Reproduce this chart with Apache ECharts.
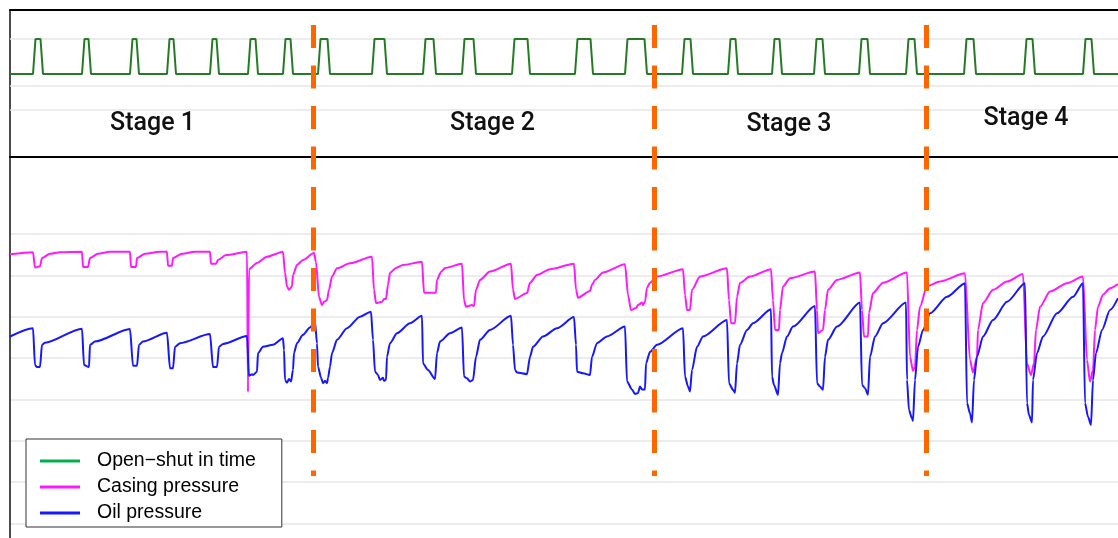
<!DOCTYPE html>
<html>
<head>
<meta charset="utf-8">
<script src="https://cdn.jsdelivr.net/npm/echarts@6/dist/echarts.min.js"></script>
<style>
  html, body { margin: 0; padding: 0; background: #fff; }
  #chart { width: 1118px; height: 538px; }
</style>
</head>
<body>
<div id="chart"></div>
<script>
// Valve schedule (time in min): instants the well is opened and shut in
const openTimes = [23, 72, 120, 157, 200, 238, 273, 308, 362, 413, 452, 502, 565, 615, 672, 718, 762, 804, 849, 896, 954, 1014, 1073];
const shutTimes = [33, 81, 129, 166, 209, 248, 283, 320, 377, 426, 466, 520, 583, 637, 683, 728, 772, 815, 860, 907, 966, 1025, 1084];

// Production stage boundaries (min) and names
const stageBounds = [303, 644, 916];
const stageNames = ['Stage 1', 'Stage 2', 'Stage 3', 'Stage 4'];

// Casing pressure, [time (min), pressure (MPa)]
const casingPressure = [
  [0,7.51],[23,7.56],[25,7.19],[30,7.22],[32,7.42],[40,7.52],[50,7.56],[72,7.57],
  [73,7.20],[78,7.20],[80,7.42],[88,7.52],[100,7.57],[120,7.57],
  [121,7.20],[126,7.20],[127,7.42],[135,7.52],[150,7.57],[157,7.57],
  [158,7.23],[162,7.23],[163,7.42],[172,7.52],[185,7.57],[200,7.57],
  [201,7.28],[206,7.28],[208,7.37],[216,7.49],[237,7.57],
  [238,4.18],[239,7.15],[247,7.30],[257,7.45],[273,7.57],
  [275,7.06],[277,6.73],[279,6.65],[282,6.73],[283,7.01],[287,7.25],[293,7.37],[304,7.54],
  [306,7.32],[309,6.48],[312,6.28],[314,6.36],[317,6.40],[319,6.65],[322,6.97],[327,7.17],[340,7.29],[362,7.45],
  [364,6.65],[366,6.33],[372,6.36],[374,6.43],[376,6.43],[378,6.77],[380,7.06],[386,7.18],[393,7.25],[412,7.33],
  [414,6.58],[426,6.58],[427,6.89],[431,7.08],[435,7.18],[452,7.28],
  [454,6.40],[456,6.24],[462,6.28],[464,6.26],[466,6.65],[470,6.89],[480,7.09],[501,7.28],
  [503,6.65],[505,6.43],[517,6.57],[520,6.82],[527,7.01],[540,7.15],[564,7.28],
  [566,6.65],[568,6.46],[580,6.62],[582,6.77],[585,6.89],[593,7.07],[615,7.27],
  [618,6.53],[621,6.16],[626,6.21],[628,6.28],[632,6.34],[633,6.28],[635,6.36],[637,6.70],[640,6.82],[647,6.97],[673,7.15],
  [675,6.53],[677,6.16],[680,6.16],[682,6.65],[690,6.97],[717,7.17],
  [719,6.40],[721,5.84],[725,5.84],[727,6.48],[730,6.82],[740,6.97],[761,7.15],
  [763,6.40],[765,5.68],[769,5.68],[770,6.16],[773,6.73],[780,6.93],[805,7.09],
  [807,6.16],[808,5.60],[813,5.68],[815,6.16],[818,6.65],[827,6.89],[850,7.07],
  [852,6.16],[854,5.52],[858,5.52],[859,6.09],[863,6.57],[873,6.82],[897,7.07],
  [900,5.03],[903,4.69],[905,4.79],[907,5.68],[910,6.24],[917,6.74],[930,6.85],[955,7.05],
  [960,4.95],[963,4.65],[967,5.03],[968,5.68],[973,6.33],[983,6.65],[997,6.85],[1013,7.03],
  [1017,4.87],[1021,4.59],[1024,4.88],[1026,5.68],[1030,6.24],[1040,6.61],[1057,6.81],[1073,6.97],
  [1077,4.95],[1080,4.43],[1083,4.71],[1085,5.68],[1088,6.24],[1093,6.53],[1100,6.69],[1108,6.79]
];

// Oil (tubing) pressure, [time (min), pressure (MPa)]
const oilPressure = [
  [0,5.52],[23,5.72],[25,4.83],[27,4.78],[30,4.78],[32,5.32],[35,5.37],[72,5.71],
  [74,4.83],[79,4.78],[80,5.32],[85,5.40],[120,5.70],
  [123,4.81],[127,4.81],[129,5.32],[133,5.40],[157,5.61],
  [160,4.75],[163,4.75],[165,5.27],[170,5.36],[200,5.58],
  [203,4.78],[207,4.78],[209,5.27],[213,5.34],[237,5.53],
  [239,4.57],[242,4.61],[243,4.59],[247,4.67],[248,5.12],[253,5.27],[263,5.32],[273,5.48],
  [274,5.20],[275,4.47],[277,4.40],[279,4.49],[281,4.43],[283,4.71],[284,5.12],[287,5.36],[293,5.56],[300,5.74],[305,5.88],
  [307,5.36],[308,4.79],[311,4.53],[313,4.39],[315,4.45],[317,4.39],[318,4.51],[320,4.79],[322,5.12],[327,5.44],[337,5.72],[350,6.00],[361,6.12],
  [363,5.44],[365,4.67],[368,4.59],[370,4.47],[373,4.52],[374,4.45],[376,4.47],[377,5.03],[380,5.36],[387,5.60],[400,5.84],[412,6.02],
  [413,4.87],[418,4.71],[425,4.49],[427,5.12],[430,5.40],[440,5.60],[452,5.74],
  [454,4.55],[457,4.51],[460,4.43],[463,4.47],[466,5.03],[470,5.44],[480,5.68],[501,6.02],
  [503,5.32],[505,4.71],[507,4.65],[517,4.61],[520,5.03],[523,5.27],[533,5.52],[547,5.72],[564,5.99],
  [566,5.32],[567,4.67],[573,4.63],[580,4.59],[582,5.03],[587,5.36],[597,5.52],[615,5.76],
  [617,4.43],[622,4.24],[625,4.13],[628,4.15],[630,4.31],[632,4.24],[635,4.24],[636,4.87],[640,5.15],[647,5.32],[673,5.72],
  [675,4.55],[678,4.31],[680,4.19],[682,4.71],[687,5.27],[693,5.52],[717,5.92],
  [719,4.39],[723,4.23],[725,4.16],[727,4.87],[730,5.32],[737,5.68],[743,5.84],[761,6.18],
  [762,4.55],[764,4.35],[768,4.11],[770,4.87],[772,5.12],[777,5.52],[783,5.76],[805,6.26],
  [807,4.39],[810,4.31],[813,4.23],[815,5.03],[818,5.44],[827,5.76],[850,6.34],
  [852,4.35],[855,4.27],[858,4.11],[860,5.03],[865,5.52],[873,5.84],[896,6.34],
  [897,4.47],[899,3.74],[902,3.54],[903,3.48],[905,4.47],[908,5.27],[913,5.68],[920,6.08],[937,6.48],[955,6.81],
  [957,3.91],[960,3.66],[962,3.44],[964,4.47],[967,5.03],[973,5.52],[983,5.92],[997,6.36],[1015,6.81],
  [1017,3.91],[1019,3.62],[1022,3.44],[1023,4.47],[1027,5.12],[1033,5.52],[1047,6.08],[1063,6.48],[1073,6.81],
  [1075,3.91],[1078,3.58],[1081,3.38],[1083,4.47],[1086,5.12],[1092,5.68],[1100,6.16],[1108,6.45]
];

// Reference levels of the valve-state panel
const stateGuides = [1, -0.34, -1.03];

const TIME_MAX = 1108;
const P_MAX = 8;      // MPa, top grid line of the pressure panel
const EDGE = 2.5;     // valve travel time (min)

// Valve state as a 0/1 trace built from the open/shut instants
function buildValveTrace() {
  const pts = [[0, 0]];
  openTimes.forEach((t0, i) => {
    const t1 = shutTimes[i];
    pts.push([t0, 0], [t0 + EDGE, 1], [t1 - EDGE, 1], [t1, 0]);
  });
  pts.push([TIME_MAX, 0]);
  return pts;
}

const chart = echarts.init(document.getElementById('chart'), null, { renderer: 'canvas' });

const hidden = { show: false };
const noTicks = { axisTick: hidden, axisLabel: hidden };

const GREEN = '#267a26', MAGENTA = '#ff19ff', BLUE = '#1717ff';

const option = {
  animation: false,
  backgroundColor: '#fff',
  grid: [
    // frame (top border and left border)
    { left: 10, top: 10, width: 1108, height: 528, outerBoundsMode: 'none' },
    // valve-state panel
    { left: 10, top: 10, width: 1108, height: 147, outerBoundsMode: 'none' },
    // pressure panel (0 .. 8 MPa)
    { left: 10, top: 234, width: 1108, height: 330.7, outerBoundsMode: 'none' },
    // stage boundary markers
    { left: 10, top: 25, width: 1108, height: 451, outerBoundsMode: 'none' }
  ],
  xAxis: [
    Object.assign({ gridIndex: 0, type: 'value', min: 0, max: TIME_MAX, position: 'top',
      axisLine: { show: true, onZero: false, lineStyle: { color: '#000', width: 2 } }, splitLine: hidden }, noTicks),
    Object.assign({ gridIndex: 1, type: 'value', min: 0, max: TIME_MAX, position: 'bottom',
      axisLine: { show: true, onZero: false, lineStyle: { color: '#000', width: 2 } }, splitLine: hidden }, noTicks),
    Object.assign({ gridIndex: 2, type: 'value', min: 0, max: TIME_MAX, axisLine: hidden, splitLine: hidden }, noTicks),
    { gridIndex: 3, type: 'value', min: 0, max: TIME_MAX, show: false }
  ],
  yAxis: [
    Object.assign({ gridIndex: 0, type: 'value', min: 0, max: 1,
      axisLine: { show: true, onZero: false, lineStyle: { color: '#111', width: 1.5 } }, splitLine: hidden }, noTicks),
    Object.assign({ gridIndex: 1, type: 'value', min: -2.37, max: 1.83, axisLine: hidden, splitLine: hidden }, noTicks),
    Object.assign({ gridIndex: 2, type: 'value', min: 0, max: P_MAX, interval: 1, axisLine: hidden,
      splitLine: { show: true, lineStyle: { color: '#e6e6e6', width: 1.5 } } }, noTicks),
    { gridIndex: 3, type: 'value', min: 0, max: 1, show: false }
  ],
  legend: {
    orient: 'vertical',
    left: 26,
    top: 439,
    padding: [12, 26, 4, 14],
    itemGap: 6,
    itemWidth: 40,
    itemHeight: 3,
    icon: 'rect',
    borderColor: '#333',
    borderWidth: 1,
    borderRadius: 0,
    backgroundColor: '#fff',
    selectedMode: false,
    textStyle: { fontFamily: 'Liberation Sans, Arial, sans-serif', fontSize: 19.5, color: '#000', lineHeight: 20, padding: [0, 0, 0, 12] },
    data: [
      { name: 'Open\u2212shut in time', itemStyle: { color: '#00b050' } },
      { name: 'Casing pressure', itemStyle: { color: MAGENTA } },
      { name: 'Oil pressure', itemStyle: { color: BLUE } }
    ]
  },
  graphic: stageNames.map((name, i) => ({
    type: 'text',
    silent: true,
    z: 100,
    x: [152.5, 492.5, 789, 1026][i],
    y: [124, 124, 124.5, 119][i],
    style: {
      text: name,
      fill: '#111',
      font: '500 25px Roboto, "Liberation Sans", sans-serif',
      textAlign: 'center',
      textVerticalAlign: 'middle'
    }
  })),
  series: [
    {
      name: 'state guides',
      type: 'line',
      xAxisIndex: 1, yAxisIndex: 1,
      data: [],
      silent: true,
      z: 1,
      markLine: {
        silent: true,
        z: 1,
        symbol: ['none', 'none'],
        label: { show: false },
        lineStyle: { color: '#e6e6e6', width: 1.5, type: 'solid' },
        data: stateGuides.map(v => ({ yAxis: v }))
      }
    },
    {
      name: 'Open\u2212shut in time',
      type: 'line',
      xAxisIndex: 1, yAxisIndex: 1,
      data: buildValveTrace(),
      showSymbol: false,
      z: 3,
      lineStyle: { color: GREEN, width: 2 },
      itemStyle: { color: GREEN }
    },
    {
      name: 'Casing pressure',
      type: 'line',
      xAxisIndex: 2, yAxisIndex: 2,
      data: casingPressure,
      showSymbol: false,
      smooth: 0.25,
      smoothMonotone: 'x',
      clip: false,
      z: 3,
      lineStyle: { color: MAGENTA, width: 2 },
      itemStyle: { color: MAGENTA }
    },
    {
      name: 'Oil pressure',
      type: 'line',
      xAxisIndex: 2, yAxisIndex: 2,
      data: oilPressure,
      showSymbol: false,
      smooth: 0.25,
      smoothMonotone: 'x',
      z: 4,
      lineStyle: { color: BLUE, width: 2 },
      itemStyle: { color: BLUE }
    },
    {
      name: 'stage boundaries',
      type: 'line',
      xAxisIndex: 3, yAxisIndex: 3,
      data: [],
      silent: true,
      z: 10,
      markLine: {
        silent: true,
        symbol: ['none', 'none'],
        label: { show: false },
        lineStyle: { color: '#ff6600', width: 5, type: [23, 17.5], cap: 'butt' },
        data: stageBounds.map(b => [{ coord: [b, 1] }, { coord: [b, 0] }])
      }
    }
  ]
};

chart.setOption(option);
</script>
</body>
</html>
